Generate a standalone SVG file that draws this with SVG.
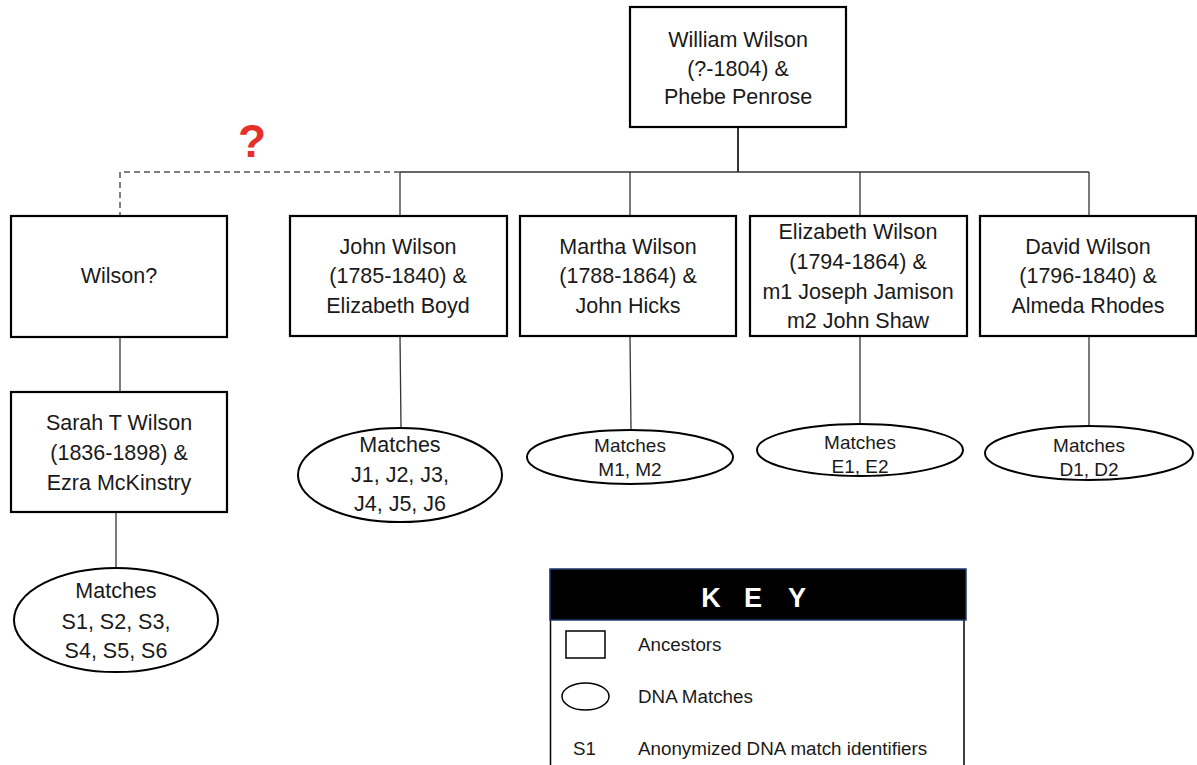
<svg xmlns="http://www.w3.org/2000/svg" width="1197" height="765" viewBox="0 0 1197 765">
<style>
.box{fill:#fff;stroke:#000;stroke-width:2.2}
.ell{fill:#fff;stroke:#000;stroke-width:2}
.t{font-family:"Liberation Sans",Arial,sans-serif;font-size:21.5px;fill:#1a1a1a;text-anchor:middle}
.ts{font-family:"Liberation Sans",Arial,sans-serif;font-size:19px;fill:#1a1a1a;text-anchor:middle}
.k{font-family:"Liberation Sans",Arial,sans-serif;font-size:18.8px;fill:#1a1a1a}
.ln{stroke:#333;stroke-width:1.3;fill:none}
.dash{stroke:#555;stroke-width:1.5;fill:none;stroke-dasharray:6 4}
</style>
<rect width="1197" height="765" fill="#fff"/>
<g id="connectors">
<line class="ln" x1="738" y1="127" x2="738" y2="172" style="stroke-width:2"/>
<line class="ln" x1="400" y1="172" x2="1089" y2="172"/>
<line class="ln" x1="400" y1="172" x2="400" y2="216"/>
<line class="ln" x1="630" y1="172" x2="630" y2="216"/>
<line class="ln" x1="860" y1="172" x2="860" y2="216"/>
<line class="ln" x1="1089" y1="172" x2="1089" y2="216"/>
<polyline class="dash" points="400,172 120,172 120,216"/>
<line class="ln" x1="120" y1="337" x2="120" y2="392"/>
<line class="ln" x1="116" y1="512" x2="116" y2="568"/>
<line class="ln" x1="400" y1="336" x2="401" y2="428"/>
<line class="ln" x1="630" y1="336" x2="631" y2="430"/>
<line class="ln" x1="860" y1="336" x2="860" y2="424"/>
<line class="ln" x1="1089" y1="336" x2="1089" y2="427"/>
</g>
<text x="252" y="157" style="font-family:'Liberation Sans',Arial,sans-serif;font-size:46px;font-weight:bold;fill:#e5302a;text-anchor:middle">?</text>
<g id="william">
<rect class="box" x="630" y="7" width="216" height="120"/>
<text class="t" x="738" y="47">William Wilson</text>
<text class="t" x="738" y="75.5">(?-1804) &amp;</text>
<text class="t" x="738" y="104">Phebe Penrose</text>
</g>
<g id="wilsonq">
<rect class="box" x="11" y="216" width="216" height="121"/>
<text class="t" x="119" y="283">Wilson?</text>
</g>
<g id="john">
<rect class="box" x="290" y="216" width="217" height="120"/>
<text class="t" x="398" y="254">John Wilson</text>
<text class="t" x="398" y="283">(1785-1840) &amp;</text>
<text class="t" x="398" y="313">Elizabeth Boyd</text>
</g>
<g id="martha">
<rect class="box" x="520" y="216" width="216" height="120"/>
<text class="t" x="628" y="254">Martha Wilson</text>
<text class="t" x="628" y="283">(1788-1864) &amp;</text>
<text class="t" x="628" y="313">John Hicks</text>
</g>
<g id="elizabeth">
<rect class="box" x="750" y="216" width="217" height="120"/>
<text class="t" x="858" y="239">Elizabeth Wilson</text>
<text class="t" x="858" y="269">(1794-1864) &amp;</text>
<text class="t" x="858" y="299">m1 Joseph Jamison</text>
<text class="t" x="858" y="328">m2 John Shaw</text>
</g>
<g id="david">
<rect class="box" x="980" y="216" width="216" height="120"/>
<text class="t" x="1088" y="254">David Wilson</text>
<text class="t" x="1088" y="283">(1796-1840) &amp;</text>
<text class="t" x="1088" y="313">Almeda Rhodes</text>
</g>
<g id="sarah">
<rect class="box" x="11" y="392" width="216" height="120"/>
<text class="t" x="119" y="430">Sarah T Wilson</text>
<text class="t" x="119" y="460">(1836-1898) &amp;</text>
<text class="t" x="119" y="490">Ezra McKinstry</text>
</g>
<g id="match-s">
<ellipse class="ell" cx="116" cy="620" rx="102" ry="52"/>
<text class="t" x="116" y="598">Matches</text>
<text class="t" x="116" y="629">S1, S2, S3,</text>
<text class="t" x="116" y="658">S4, S5, S6</text>
</g>
<g id="match-j">
<ellipse class="ell" cx="400" cy="475" rx="102" ry="47"/>
<text class="t" x="400" y="452">Matches</text>
<text class="t" x="400" y="482">J1, J2, J3,</text>
<text class="t" x="400" y="511">J4, J5, J6</text>
</g>
<g id="match-m">
<ellipse class="ell" cx="630" cy="457" rx="103" ry="27"/>
<text class="ts" x="630" y="452">Matches</text>
<text class="ts" x="630" y="476">M1, M2</text>
</g>
<g id="match-e">
<ellipse class="ell" cx="860" cy="450" rx="103" ry="26"/>
<text class="ts" x="860" y="449">Matches</text>
<text class="ts" x="860" y="473">E1, E2</text>
</g>
<g id="match-d">
<ellipse class="ell" cx="1089" cy="453" rx="104" ry="27"/>
<text class="ts" x="1089" y="452">Matches</text>
<text class="ts" x="1089" y="476">D1, D2</text>
</g>
<g id="key">
<line x1="550.5" y1="569" x2="550.5" y2="765" stroke="#000" stroke-width="1.5"/>
<line x1="964" y1="569" x2="964" y2="765" stroke="#000" stroke-width="1.5"/>
<rect x="550" y="569" width="416" height="51" fill="#000" stroke="#1f3a6e" stroke-width="1.5"/>
<text x="711" y="607" style="font-family:'Liberation Sans',Arial,sans-serif;font-size:27px;font-weight:bold;fill:#fff;text-anchor:middle">K</text>
<text x="753" y="607" style="font-family:'Liberation Sans',Arial,sans-serif;font-size:27px;font-weight:bold;fill:#fff;text-anchor:middle">E</text>
<text x="797" y="607" style="font-family:'Liberation Sans',Arial,sans-serif;font-size:27px;font-weight:bold;fill:#fff;text-anchor:middle">Y</text>
<rect x="566" y="631" width="39" height="27" fill="#fff" stroke="#000" stroke-width="1.5"/>
<text class="k" x="638" y="651">Ancestors</text>
<ellipse cx="585.5" cy="696.5" rx="23.5" ry="13.5" fill="#fff" stroke="#000" stroke-width="1.5"/>
<text class="k" x="638" y="703">DNA Matches</text>
<text class="k" x="573" y="755">S1</text>
<text class="k" x="638" y="755">Anonymized DNA match identifiers</text>
</g>
</svg>
